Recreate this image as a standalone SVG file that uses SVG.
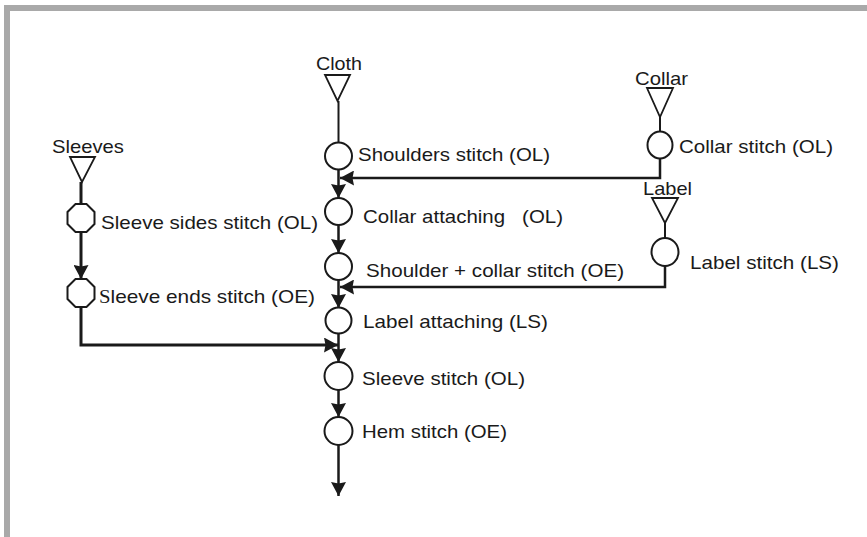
<svg xmlns="http://www.w3.org/2000/svg" width="867" height="537" viewBox="0 0 867 537">
<style>
.t{font-family:"Liberation Sans",Arial,sans-serif;font-size:19px;fill:#1a1a1a}
.op{fill:#fff;stroke:#1a1a1a;stroke-width:2}
.tri{fill:#fff;stroke:#1a1a1a;stroke-width:1.8}
.ln{fill:none;stroke:#1a1a1a;stroke-width:2.5}
.ar{fill:none;stroke:#1a1a1a;stroke-width:2.5;marker-end:url(#ah)}
</style>
<defs>
<marker id="ah" markerUnits="userSpaceOnUse" viewBox="0 0 14 15" refX="14" refY="7.5" markerWidth="14" markerHeight="15" orient="auto">
<path d="M0,0 L14,7.5 L0,15 L1.5,7.5 z" fill="#1a1a1a"/>
</marker>
</defs>
<rect width="867" height="537" fill="#fff"/>
<g id="frame">
<rect x="4" y="5" width="863" height="6" fill="#a9a9a9"/>
<rect x="4" y="5" width="6" height="532" fill="#a9a9a9"/>
</g>
<g id="connectors">
<line class="ln" x1="338.5" y1="101" x2="338.5" y2="143" style="stroke-width:2"/>
<line class="ar" x1="338.5" y1="169" x2="338.5" y2="198"/>
<line class="ar" x1="338.5" y1="225" x2="338.5" y2="253"/>
<line class="ar" x1="338.5" y1="280" x2="338.5" y2="308"/>
<line class="ar" x1="338.5" y1="333" x2="338.5" y2="362"/>
<line class="ar" x1="338.5" y1="390" x2="338.5" y2="417"/>
<line class="ar" x1="338.5" y1="445" x2="338.5" y2="496"/>
<line class="ln" x1="660" y1="117" x2="660" y2="132" style="stroke-width:2"/>
<polyline class="ar" points="660,158 660,178 340,178"/>
<line class="ln" x1="665" y1="223" x2="665" y2="238" style="stroke-width:2"/>
<polyline class="ar" points="665,266 665,287 340,287"/>
<line class="ln" x1="81" y1="182" x2="81" y2="204" style="stroke-width:3"/>
<line class="ar" x1="81" y1="232" x2="81" y2="279" style="stroke-width:3"/>
<polyline class="ar" points="81,307 81,345 338,345" style="stroke-width:3"/>
</g>
<g id="cloth">
<polygon class="tri" points="325,75 350,75 337.5,101"/>
<text class="t" x="316" y="70" textLength="46" lengthAdjust="spacingAndGlyphs">Cloth</text>
</g>
<g id="sleeves">
<polygon class="tri" points="70,157 95,157 82,182"/>
<text class="t" x="52" y="153" textLength="72" lengthAdjust="spacingAndGlyphs">Sleeves</text>
</g>
<g id="collar">
<polygon class="tri" points="647,88 673,88 660,117"/>
<text class="t" x="635" y="85" textLength="53" lengthAdjust="spacingAndGlyphs">Collar</text>
</g>
<g id="label">
<polygon class="tri" points="652,198 678,198 665,223"/>
<text class="t" x="643" y="195" textLength="49" lengthAdjust="spacingAndGlyphs">Label</text>
</g>
<g id="collar-stitch">
<ellipse class="op" cx="660" cy="145" rx="12.5" ry="13.5"/>
<text class="t" x="679" y="153" textLength="154" lengthAdjust="spacingAndGlyphs">Collar stitch (OL)</text>
</g>
<g id="label-stitch">
<ellipse class="op" cx="665" cy="252" rx="13.5" ry="14"/>
<text class="t" x="690" y="269" textLength="149" lengthAdjust="spacingAndGlyphs">Label stitch (LS)</text>
</g>
<g id="sleeve-sides-stitch">
<polygon class="op" points="75.5,204 86.5,204 94.5,212 94.5,224 86.5,232 75.5,232 67.5,224 67.5,212"/>
<text class="t" x="101" y="229" textLength="217" lengthAdjust="spacingAndGlyphs">Sleeve sides stitch (OL)</text>
</g>
<g id="sleeve-ends-stitch">
<polygon class="op" points="75.5,279 86.5,279 94.5,287 94.5,299 86.5,307 75.5,307 67.5,299 67.5,287"/>
<text class="t" x="99" y="303" textLength="216" lengthAdjust="spacingAndGlyphs"><tspan style="font-family:'Liberation Serif',serif">S</tspan>leeve ends stitch (OE)</text>
</g>
<g id="shoulders-stitch">
<circle class="op" cx="338.5" cy="156" r="13.5"/>
<text class="t" x="358" y="161" textLength="192" lengthAdjust="spacingAndGlyphs">Shoulders stitch (OL)</text>
</g>
<g id="collar-attaching">
<circle class="op" cx="338.5" cy="211.5" r="13.5"/>
<text class="t" x="363" y="223" textLength="200" lengthAdjust="spacingAndGlyphs" xml:space="preserve">Collar attaching   (OL)</text>
</g>
<g id="shoulder-collar-stitch">
<circle class="op" cx="338.5" cy="266.5" r="13.5"/>
<text class="t" x="366" y="277" textLength="258" lengthAdjust="spacingAndGlyphs">Shoulder + collar stitch (OE)</text>
</g>
<g id="label-attaching">
<circle class="op" cx="338.5" cy="320.5" r="13"/>
<text class="t" x="363" y="328" textLength="185" lengthAdjust="spacingAndGlyphs">Label attaching (LS)</text>
</g>
<g id="sleeve-stitch">
<circle class="op" cx="338.5" cy="376" r="14"/>
<text class="t" x="362" y="385" textLength="163" lengthAdjust="spacingAndGlyphs">Sleeve stitch (OL)</text>
</g>
<g id="hem-stitch">
<circle class="op" cx="338.5" cy="431" r="14"/>
<text class="t" x="362" y="438" textLength="145" lengthAdjust="spacingAndGlyphs">Hem stitch (OE)</text>
</g>
</svg>
